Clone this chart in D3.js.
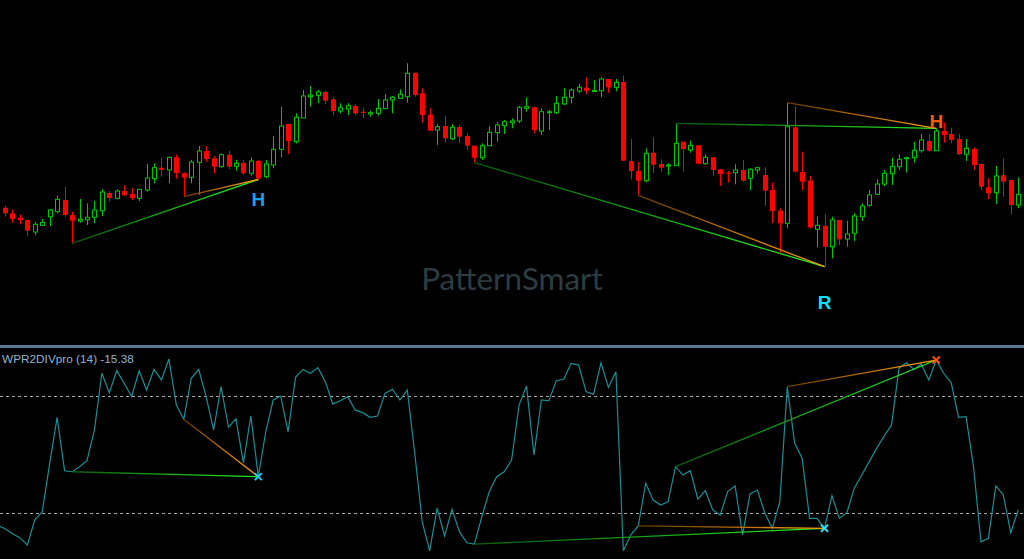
<!DOCTYPE html>
<html>
<head>
<meta charset="utf-8">
<script src="https://cdn.jsdelivr.net/npm/d3@7"></script>
<style>
html,body{margin:0;padding:0;background:#000;overflow:hidden}
svg{display:block}
</style>
</head>
<body>
<svg id="chart" width="1024" height="559"></svg>
<script>
// ---------- DATA (price in points, indicator = Williams %R) ----------
const candleOpen = [92.3,86.7,82.3,80,68,74.7,83.3,88.3,100,85,
79,80.3,82.7,89.3,107,101.7,109,106,101.7,110,
121.3,132.3,130,142.7,126.7,122.7,137.7,149,141.7,133.3,
145.3,133.7,137,126.7,139,123.3,135,150.7,176,158.3,
182,203.3,204.7,208,200.7,189,191,194,188.3,186,
186.7,191.3,200,201.7,203.3,227.3,206.7,185.3,170,174,
161.3,173,164,154.3,142.3,154.3,167.3,174.3,177.3,179,
191.7,192.7,169,187.3,187.3,196,202.7,209,212.3,209.3,
209.3,221,212.7,218,139,129,119.3,147.3,136,134.8,
134.3,158.3,150,154.7,136.3,142.7,130.7,127.3,127.3,130,
121.7,130,125,110,89.3,76.7,172.7,128,119.3,70.7,
74.3,53.3,80,61,66.7,83.3,94.7,105.7,116,126.3,
133.3,141.3,142.3,149.3,159,149.3,169,166,161,145.7,
151,136,112.7,107.3,124.7,120,95];
const candleHigh = [94.3,90.3,85.3,80,78,81,91,104.3,113,88.3,
101,96.7,99,110.7,109,110.7,114.7,112,110.7,136,
136.7,142,143.3,145.7,127.7,140,154,154,144,146.7,
149,140,140,142.7,140,140,164,193.3,176,186.7,
210,214,210,209.3,202.7,196.7,196.7,196,192.7,189.3,
201,206,204,210.7,236.7,227.3,211.7,191.7,176,184,
176,175,166.7,154.3,156.7,174,178,180,181.7,194,
202.7,192.7,191.7,190,204,211.7,211.7,216,222.7,220,
222.7,221,221,224.3,161,138,151.7,162.7,140.7,136.7,
176.7,158.3,159.3,154.7,145.7,142.7,130.7,129,135.7,140,
131.7,133.3,132.7,117.3,91.7,197.3,193.3,148.3,124,83.3,
86,83.3,80,79.3,86.7,96.7,110,120.7,130,142.3,
145.7,143.3,158.3,166,166,171.7,177.3,172.3,166,161,
152.7,136.7,121.7,134,141.7,120,122.7];
const candleLow = [83.3,77.3,75.7,64,65,74.7,74,86.7,83.3,56.7,
77.3,75,76.7,84,98.3,100.7,104,100,99,108.3,
116.7,123.3,116.7,121.3,103.3,116.7,105,138.3,126.7,132.3,
131,129.3,125,124.3,120.5,121.7,131.7,142.7,145.7,156.7,
182,193.3,196.7,196,184.7,186.7,185,185,181.7,183.3,
184.3,191.3,186.7,201.7,197.3,203.3,177.3,169.3,155,157.3,
160,157.3,150,137.3,140,154.3,158.3,166,171.7,176.7,
188.3,166.7,165,170,186,195,196.7,206.7,206,209.3,
202.7,207.3,208.7,139.3,120.7,104.7,117.7,127.3,128.3,125,
134.3,128.3,147.3,136.3,135,124,114,117.3,115.7,118.3,
110,126.7,94,76.7,47.3,71.7,127.3,110,71.7,52.7,
33.3,41.7,55,53.3,59,79,93.3,105,114,115,
130,127.3,137.3,147.3,148.3,149.3,157.3,156.7,145,139,
130,110,100.7,96,103.3,86,91.7];
const candleClose = [86.7,81,80,69.3,75.7,77.7,90,100.7,85,79.3,
80.7,82.7,90,108,102,109,105,102,110.7,122,
132.3,130,142.7,127,122.3,138,149,141,133.3,145.3,
133.3,136.7,126.7,139,121.7,136,150.7,174,159,182.7,
204,205,208,199.3,189,192.3,194.3,186.7,187,187.3,
191.7,200,202.7,205.7,226.7,205,185,169.3,173.3,161.7,
172.7,163.3,154.3,142.3,154.3,167.7,175,178.3,179,192.7,
193.3,170,188.3,188.3,196.7,202.7,210,212.7,209.3,209.5,
221,212.7,217.7,139.3,129,119.3,146.7,135.3,132.3,135,
156.7,151,154.7,136.3,142.7,130,126,126.7,130,119.3,
130.7,132.3,109.3,89,76.7,173.3,128.3,118.3,72.7,74.7,
53.3,80,60.7,66,84,94,105,116,126.7,133.7,
140.7,142.3,149.7,160,149.3,169,165,160,145.7,151.7,
135,113.3,106.7,124,118.3,95,105.7];
// Williams %R; first entry is the bar just left of the visible area
const wprPrev = -86.5;
const wpr = [-88.2,-90.8,-92.8,-96.6,-83.7,-79.5,-54.7,-31.1,-58.5,-59.0,
-56.4,-53.3,-37.6,-8.5,-18.5,-7.2,-13.6,-20.5,-7.2,-17.1,
-6.5,-11.9,-1.2,-24.8,-32.1,-11.1,-6.5,-20.5,-37.6,-15.4,
-36.2,-31.9,-54.4,-30.3,-61.5,-38.5,-22.2,-20.2,-38.5,-10.6,
-6.5,-8.5,-5.6,-12.8,-24.3,-22.6,-20.5,-27.3,-28.7,-31.1,
-30.4,-18.8,-16.7,-22.2,-17.1,-49.5,-84.6,-99.6,-77.7,-91.9,
-78.3,-89.7,-95.4,-96.1,-82.1,-69.2,-61.5,-59.0,-53.0,-24.8,
-15.0,-50.4,-22.2,-22.7,-12.3,-11.6,-3.4,-4.3,-17.9,-19.3,
-3.1,-15.7,-7.7,-99.5,-91.4,-86.8,-64.9,-73.5,-76.1,-74.4,
-56.4,-60.7,-58.5,-73.1,-68.7,-78.6,-81.2,-69.2,-66.2,-91.4,
-70.4,-68.4,-80.3,-88.0,-74.4,-15.4,-44.4,-52.1,-82.9,-82.9,
-88.0,-71.3,-82.9,-80.0,-67.5,-60.7,-53.8,-47.0,-40.7,-35.0,
-5.9,-3.1,-6.5,-3.7,-11.9,-1.7,-8.5,-13.3,-31.1,-30.8,
-56.4,-94.9,-93.1,-66.3,-70.9,-90.3,-78.6];
const wprLevels = [-20, -80];
const indicatorTitle = "WPR2DIVpro (14) -15.38";
const watermark = "PatternSmart";
// divergence pairs: [fromIndex, toIndex, anchor ('low'|'high'), kind]
const divFrom = [9, 24, 63, 85, 90, 105];
const divTo   = [34, 34, 110, 110, 125, 125];
const divAnchor = ["low","low","low","low","high","high"];
const divKind = ["green","orange","green","orange","green","orange"];
// pattern labels
const labelIndex = [34, 110, 125];
const labelText = ["H", "R", "H"];
const labelKind = ["bullBlue", "bullCyan", "bearOrange"];

// ---------- LAYOUT ----------
const W = 1024, H = 559;
const svg = d3.select("#chart");
svg.append("rect").attr("width", W).attr("height", H).attr("fill", "#000");

const n = candleOpen.length;
const x = d3.scaleLinear().domain([0, n - 1]).range([5, 5 + 7.45 * (n - 1)]);
const yP = d3.scaleLinear().domain([0, 300]).range([300, 0]);
const yI = d3.scaleLinear().domain([-100, 0]).range([551.7, 356.7]);

const defs = svg.append("defs");
const colors = {
  green: ["#0b5a0b", "#22ee22"],
  orange: ["#6a3c00", "#ffa010"]
};

// watermark
svg.append("text")
  .attr("x", 512).attr("y", 290)
  .attr("text-anchor", "middle")
  .attr("font-family", "Lato, 'Open Sans', sans-serif")
  .attr("font-size", 31.5)
  .attr("fill", "#2c3d42")
  .text(watermark);

// ---------- CANDLES ----------
const candles = d3.range(n).map(i => ({
  i, o: candleOpen[i], h: candleHigh[i], l: candleLow[i], c: candleClose[i]
}));
const gC = svg.append("g");
const px = i => Math.round(x(i)) + 0.5;
const greenC = "#00c800", redC = "#ff0000";

gC.selectAll("line.wick").data(candles).join("line")
  .attr("x1", d => px(d.i)).attr("x2", d => px(d.i))
  .attr("y1", d => yP(d.h)).attr("y2", d => yP(d.l))
  .attr("stroke", d => d.c >= d.o ? greenC : redC)
  .attr("stroke-width", 1);

gC.selectAll("rect.body").data(candles).join("rect")
  .attr("x", d => d.c >= d.o ? px(d.i) - 2 : px(d.i) - 2.5)
  .attr("width", d => d.c >= d.o ? 4 : 5)
  .attr("y", d => yP(Math.max(d.o, d.c)))
  .attr("height", d => Math.max(1, Math.abs(yP(d.o) - yP(d.c))))
  .attr("fill", d => d.c >= d.o ? "#000" : redC)
  .attr("stroke", d => d.c >= d.o ? greenC : redC)
  .attr("stroke-width", d => d.c >= d.o ? 1 : 0);

// ---------- DIVERGENCE LINES (price) ----------
function gradLine(g, id, x1, y1, x2, y2, kind, w) {
  const gr = defs.append("linearGradient").attr("id", id)
    .attr("gradientUnits", "userSpaceOnUse")
    .attr("x1", x1).attr("y1", y1).attr("x2", x2).attr("y2", y2);
  gr.append("stop").attr("offset", "0%").attr("stop-color", colors[kind][0]);
  gr.append("stop").attr("offset", "100%").attr("stop-color", colors[kind][1]);
  g.append("line").attr("x1", x1).attr("y1", y1).attr("x2", x2).attr("y2", y2)
    .attr("stroke", `url(#${id})`).attr("stroke-width", w);
}
const gD = svg.append("g");
divFrom.forEach((f, k) => {
  const t = divTo[k];
  const arr = divAnchor[k] === "low" ? candleLow : candleHigh;
  gradLine(gD, "pg" + k, x(f), yP(arr[f]), x(t), yP(arr[t]), divKind[k], 1.3);
});

// ---------- PATTERN LABELS ----------
const labelStyle = {
  bullBlue: { fill: "#1aa0e6", dy: 26, anchor: "low" },
  bullCyan: { fill: "#10e0f8", dy: 42, anchor: "low" },
  bearOrange: { fill: "#ff5a0a", dy: -0.5, anchor: "high" }
};
labelIndex.forEach((i, k) => {
  const st = labelStyle[labelKind[k]];
  const base = st.anchor === "low" ? candleLow[i] : candleHigh[i];
  svg.append("text")
    .attr("x", x(i)).attr("y", yP(base) + st.dy)
    .attr("text-anchor", "middle")
    .attr("font-family", "'Liberation Sans', Arial, sans-serif")
    .attr("font-weight", "bold")
    .attr("font-size", 19)
    .attr("fill", st.fill)
    .text(labelText[k]);
});

// ---------- INDICATOR PANEL ----------
svg.append("rect").attr("x", 0).attr("y", 345).attr("width", W).attr("height", 3)
  .attr("fill", "#587a96");

svg.append("g").selectAll("line").data(wprLevels).join("line")
  .attr("x1", 0).attr("x2", W)
  .attr("y1", d => Math.round(yI(d)) + 0.5).attr("y2", d => Math.round(yI(d)) + 0.5)
  .attr("stroke", "#a8a8a8").attr("stroke-width", 1)
  .attr("stroke-dasharray", "3,3");

const wprSeries = [wprPrev].concat(wpr);
svg.append("path")
  .datum(wprSeries)
  .attr("fill", "none")
  .attr("stroke", "#1a8e94")
  .attr("stroke-width", 1.2)
  .attr("d", d3.line().x((d, i) => x(i - 1)).y(d => yI(d)));

const gID = svg.append("g");
divFrom.forEach((f, k) => {
  const t = divTo[k];
  gradLine(gID, "ig" + k, x(f), yI(wpr[f]), x(t), yI(wpr[t]), divKind[k], 1.3);
});

// X markers on indicator
const markColor = { bullBlue: "#22c8f0", bullCyan: "#22e8ff", bearOrange: "#ff4a10" };
labelIndex.forEach((i, k) => {
  const cx = x(i), cy = yI(wpr[i]), s = 3.5;
  const g = svg.append("g").attr("stroke", markColor[labelKind[k]]).attr("stroke-width", 2);
  g.append("line").attr("x1", cx - s).attr("y1", cy - s).attr("x2", cx + s).attr("y2", cy + s);
  g.append("line").attr("x1", cx - s).attr("y1", cy + s).attr("x2", cx + s).attr("y2", cy - s);
});

svg.append("text")
  .attr("x", 2).attr("y", 363)
  .attr("font-family", "'Liberation Sans', Arial, sans-serif")
  .attr("font-size", 11.8)
  .attr("fill", "#8fb4cf")
  .text(indicatorTitle);
</script>
</body>
</html>
